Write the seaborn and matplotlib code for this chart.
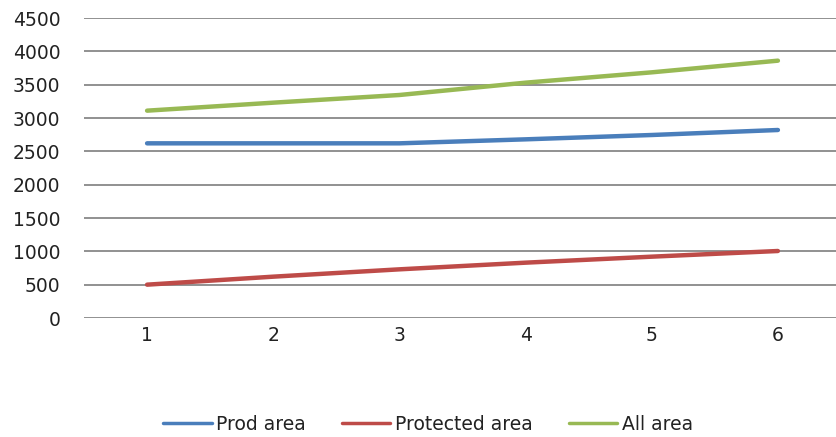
import matplotlib
matplotlib.use("Agg")
import matplotlib.pyplot as plt
import seaborn as sns
import pandas as pd

x_vals = [1, 2, 3, 4, 5, 6]
prod_area = [2620, 2620, 2620, 2680, 2745, 2820]
protected_area = [500, 620, 730, 830, 920, 1005]
all_area = [3110, 3230, 3345, 3530, 3685, 3860]
series_names = ["Prod area", "Protected area", "All area"]
colors = ["#4a7ebb", "#be4b48", "#98b954"]
y_ticks = [0, 500, 1000, 1500, 2000, 2500, 3000, 3500, 4000, 4500]

df = pd.concat([
    pd.DataFrame({"x": x_vals, "y": prod_area, "series": series_names[0]}),
    pd.DataFrame({"x": x_vals, "y": protected_area, "series": series_names[1]}),
    pd.DataFrame({"x": x_vals, "y": all_area, "series": series_names[2]}),
])

sns.set_style("white")
plt.rcParams['font.family'] = ['DejaVu Sans']

fig = plt.figure(figsize=(8.36, 4.37), dpi=100)
ax = fig.add_axes([84/836, (437-318)/437, (841-84)/836, 300/437])

sns.lineplot(data=df, x="x", y="y", hue="series", hue_order=series_names,
             palette=colors, linewidth=3.2, ax=ax, legend=True)
for line in ax.get_lines():
    line.set_solid_capstyle("round")

ax.set_xlim(0.5, 6.5)
ax.set_ylim(0, 4500)
ax.set_yticks(y_ticks)
ax.set_xticks(x_vals)
ax.set_xticklabels([str(v) for v in x_vals])
ax.yaxis.grid(True, color="#888888", linewidth=1.3)
ax.xaxis.grid(False)
ax.set_axisbelow(True)
for s in ax.spines.values():
    s.set_visible(False)
ax.tick_params(axis="both", length=0, labelsize=13.5, colors="#222222")
ax.tick_params(axis="y", pad=17)
ax.tick_params(axis="x", pad=6)
ax.set_xlabel("")
ax.set_ylabel("")

leg = ax.legend(loc="center", bbox_to_anchor=(428/836, 1 - 424/437), bbox_transform=fig.transFigure,
                ncol=3, frameon=False, fontsize=13.5, handlelength=2.6, columnspacing=1.9,
                handletextpad=0.25)
for t in leg.get_texts():
    t.set_color("#222222")
for line in leg.get_lines():
    line.set_linewidth(2.5)

fig.savefig("out.png", dpi=100)
